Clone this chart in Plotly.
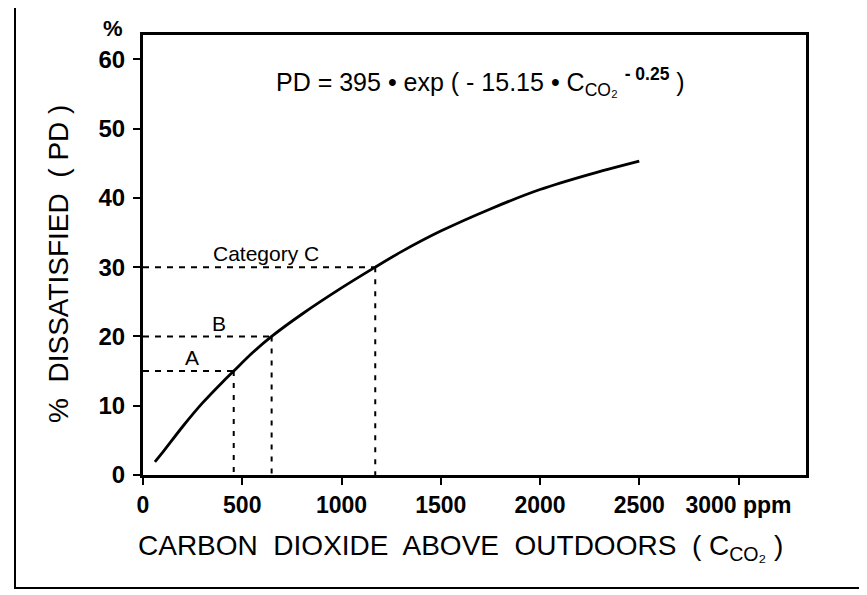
import plotly.graph_objects as go

# Data
co2_ppm = [60, 100, 200, 300, 400, 457, 550, 648, 800, 1000, 1170, 1300, 1500, 1750, 2000, 2250, 2500]
pd_percent = [1.9, 3.3, 7.0, 10.4, 13.4, 15.0, 17.6, 20.0, 23.2, 27.0, 30.0, 32.2, 35.2, 38.4, 41.2, 43.4, 45.3]

category_labels = ["A", "B", "Category C"]
category_pd = [15, 20, 30]
category_co2 = [457, 648, 1170]

x_tickvals = [0, 500, 1000, 1500, 2000, 2500, 3000]
x_ticktext = ["0", "500", "1000", "1500", "2000", "2500", "3000 ppm"]
y_tickvals = [0, 10, 20, 30, 40, 50, 60]

FONT = "Liberation Sans, Arial, sans-serif"

# page offset (browser body margin) and plot area on screen
OFF = 8
L, R, T, B = 143, 806, 35, 475
W, H = 867, 595
PW, PH = R - L, B - T


def px(sx):
    return (sx - L) / PW


def py(sy):
    return (B - sy) / PH


fig = go.Figure()

for lvl, cx in zip(category_pd, category_co2):
    fig.add_trace(go.Scatter(x=[0, cx], y=[lvl, lvl], mode="lines",
                             line=dict(color="black", width=2, dash="6px,6px"),
                             showlegend=False, hoverinfo="skip"))
    fig.add_trace(go.Scatter(x=[cx, cx], y=[lvl, 0], mode="lines",
                             line=dict(color="black", width=2, dash="5px,7px"),
                             showlegend=False, hoverinfo="skip"))

fig.add_trace(go.Scatter(x=co2_ppm, y=pd_percent, mode="lines",
                         line=dict(color="black", width=2.8, shape="spline", smoothing=0.8),
                         showlegend=False))

label_pos = [(247, 16.9), (383, 21.9), (620, 32.0)]
for text, (lx, ly) in zip(category_labels, label_pos):
    fig.add_annotation(x=lx, y=ly, text=text, showarrow=False,
                       xanchor="center", yanchor="middle",
                       font=dict(family=FONT, size=21, color="black"))

fig.add_annotation(xref="paper", yref="paper", x=px(480), y=py(82),
                   xanchor="center", yanchor="middle",
                   text="PD = 395 • exp ( - 15.15 • C<sub>CO₂</sub> <sup><b>- 0.25</b></sup> )",
                   showarrow=False, font=dict(family=FONT, size=25, color="black"))

fig.add_annotation(xref="paper", yref="paper", x=px(113), y=py(29),
                   xanchor="center", yanchor="middle",
                   text="<b>%</b>", showarrow=False,
                   font=dict(family=FONT, size=22, color="black"))

# axis titles
fig.add_annotation(xref="paper", yref="paper", x=px(460), y=py(547),
                   xanchor="center", yanchor="middle",
                   text="CARBON  DIOXIDE  ABOVE  OUTDOORS  ( C<sub>CO₂</sub> )",
                   showarrow=False, font=dict(family=FONT, size=28, color="black"))
fig.add_annotation(xref="paper", yref="paper", x=px(58), y=py(264),
                   xanchor="center", yanchor="middle", textangle=-90,
                   text="%  DISSATISFIED  ( PD )",
                   showarrow=False, font=dict(family=FONT, size=28, color="black"))

# outer frame
fig.add_shape(type="rect", xref="paper", yref="paper",
              x0=px(15), x1=px(920), y0=py(588), y1=py(5),
              line=dict(color="black", width=2), layer="below")

fig.update_layout(
    width=W, height=H,
    margin=dict(l=L - OFF, r=W - (R - OFF), t=T - OFF, b=H - (B - OFF)),
    paper_bgcolor="white", plot_bgcolor="white",
    font=dict(family=FONT, color="black"),
    xaxis=dict(range=[0, 3340], tickvals=x_tickvals, ticktext=x_ticktext,
               ticks="outside", ticklen=7, tickwidth=2, tickcolor="black",
               ticklabelstandoff=0,
               showline=True, linecolor="black", linewidth=3, mirror=True,
               showgrid=False, zeroline=False,
               tickfont=dict(family=FONT, size=23, color="black", weight="bold")),
    yaxis=dict(range=[0, 63.5], tickvals=y_tickvals,
               ticks="outside", ticklen=7, tickwidth=2, tickcolor="black",
               ticklabelstandoff=3,
               showline=True, linecolor="black", linewidth=3, mirror=True,
               showgrid=False, zeroline=False,
               tickfont=dict(family=FONT, size=24, color="black", weight="bold")),
)

fig.write_html("out.html")
